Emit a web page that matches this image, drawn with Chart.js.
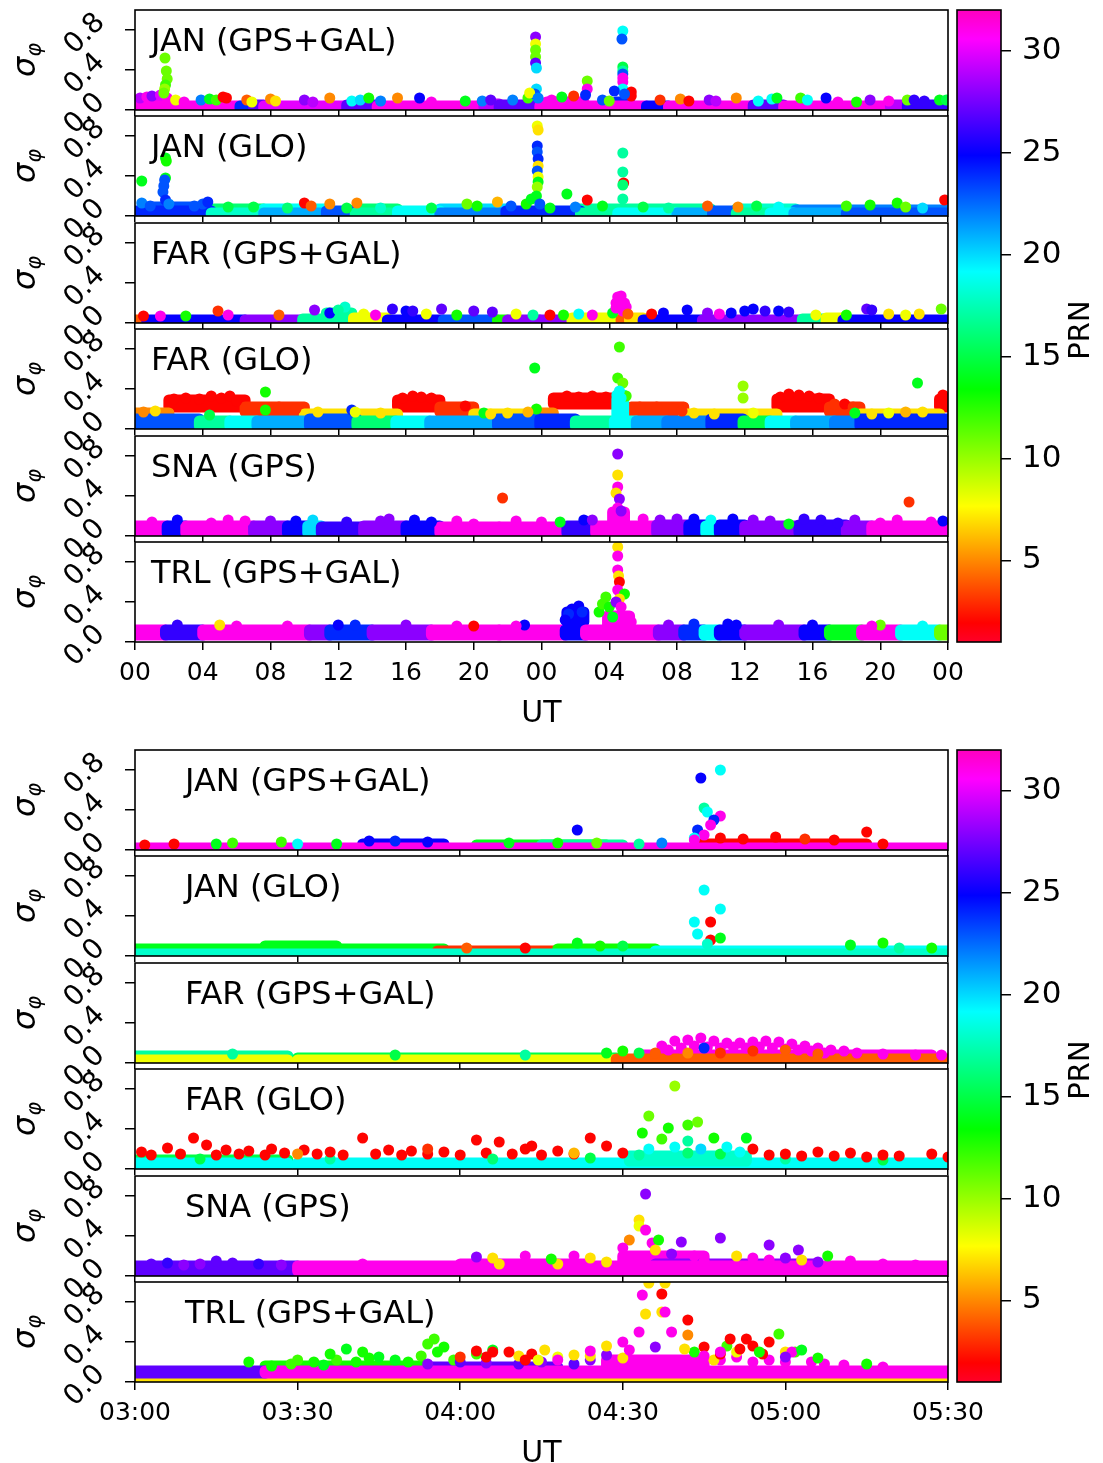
<!DOCTYPE html>
<html>
<head>
<meta charset="utf-8">
<script src="https://cdn.jsdelivr.net/npm/chart.js@4.4.0/dist/chart.umd.min.js"></script>
<style>
  body { margin: 0; background: #fff; width: 1103px; height: 1463px; position: relative; overflow: hidden; }
  canvas { position: absolute; }
</style>
</head>
<body>
<script>
// ---- axes / labels ----
const stationTitles = ['JAN (GPS+GAL)', 'JAN (GLO)', 'FAR (GPS+GAL)', 'FAR (GLO)', 'SNA (GPS)', 'TRL (GPS+GAL)'];
const overviewTicks = [0, 4, 8, 12, 16, 20, 24, 28, 32, 36, 40, 44, 48];
const overviewTickLabels = ['00', '04', '08', '12', '16', '20', '00', '04', '08', '12', '16', '20', '00'];
const detailTicks = [3, 3.5, 4, 4.5, 5, 5.5];
const detailTickLabels = ['03:00', '03:30', '04:00', '04:30', '05:00', '05:30'];
const sigmaTicks = [0, 0.4, 0.8];
const sigmaTickLabels = ['0.0', '0.4', '0.8'];
const prnTicks = [5, 10, 15, 20, 25, 30];
const prnTickLabels = ['5', '10', '15', '20', '25', '30'];

// bands: [t start (h), t end (h), sigma low, sigma high, PRN]  -- dense runs of samples,
//        later rows are drawn over earlier ones
// dots:  [t (h), sigma, PRN]

// two-day overview
const janGpsOvBands = [
  [0.2, 1.9, .05, .1, 30], [24.3, 26.5, .05, .08, 31], [28.4, 29.2, .05, .08, 24],
  [0.1, 6.2, .02, .04, 31], [6.2, 7.0, .02, .04, 24], [7.0, 7.6, .02, .05, 27],
  [7.6, 12.5, .02, .04, 30], [12.5, 14.3, .02, .05, 27], [14.3, 20.6, .02, .04, 31], [20.6, 21.5, .03, .06, 29],
  [21.5, 23.9, .02, .05, 27], [23.9, 30.2, .02, .04, 31],
  [30.2, 31.5, .02, .04, 25], [31.5, 36.5, .02, .04, 31], [36.5, 38.3, .02, .05, 27], [38.3, 44.6, .02, .04, 31],
  [44.6, 45.6, .03, .05, 29], [45.6, 48, .02, .05, 26]
];
const janGpsOvDots = [
  [0.3, .12, 29], [0.7, .13, 31], [1.0, .14, 28], [1.5, .15, 30], [1.9, .12, 31], [2.4, .1, 8], [2.9, .08, 31],
  [1.77, .52, 11], [1.85, .39, 11], [1.9, .31, 11], [1.8, .25, 12], [1.75, .21, 10], [1.7, .17, 11],
  [3.9, .1, 22], [4.4, .11, 14], [4.8, .1, 12], [5.2, .13, 2], [5.4, .12, 2], [6.6, .1, 4], [6.9, .08, 8],
  [8.0, .11, 5], [8.3, .09, 7], [10.0, .1, 28], [10.5, .08, 29], [11.5, .12, 5], [12.8, .09, 19], [13.3, .1, 20],
  [13.8, .12, 13], [14.5, .09, 22], [15.5, .12, 5], [16.8, .12, 25], [17.5, .08, 31], [19.5, .09, 14], [20.5, .09, 22],
  [21.0, .1, 27], [22.3, .1, 22], [23.2, .12, 12],
  [23.65, .73, 28], [23.65, .66, 8], [23.65, .6, 11], [23.65, .53, 11], [23.65, .47, 27], [23.7, .42, 20],
  [23.7, .21, 20], [23.6, .16, 23], [23.3, .17, 8], [23.8, .12, 22],
  [24.6, .1, 31], [25.2, .13, 14], [25.9, .14, 3], [26.7, .29, 11], [26.7, .21, 31], [26.6, .15, 24], [27.6, .1, 23],
  [28.0, .09, 11], [28.8, .79, 19], [28.75, .71, 23], [28.8, .43, 15], [28.8, .39, 17], [28.8, .36, 23], [28.8, .32, 31],
  [28.8, .28, 31], [28.8, .21, 19], [28.3, .19, 24], [29.3, .18, 2], [29.3, .14, 2], [28.9, .16, 23],
  [31.0, .1, 3], [32.2, .11, 5], [32.7, .09, 2], [33.9, .1, 28], [34.3, .09, 29], [35.5, .12, 5], [36.8, .09, 19],
  [37.6, .11, 19], [37.9, .12, 14], [39.3, .12, 12], [39.7, .1, 19], [40.8, .12, 25], [41.5, .08, 31], [42.6, .08, 13],
  [43.4, .1, 28], [44.5, .09, 31], [45.6, .1, 11], [46.0, .1, 26], [46.6, .09, 26], [47.5, .1, 14], [47.9, .1, 15]
];

const janGloOvBands = [
  [0.5, 4.3, .06, .09, 23], [4.5, 7.6, .05, .07, 16], [7.6, 11.3, .05, .07, 19], [13.0, 15.5, .05, .07, 16],
  [18.0, 21.9, .05, .07, 20], [26.3, 34.0, .05, .07, 17], [35.5, 39.0, .05, .07, 18], [39.0, 48.0, .05, .06, 22],
  [0, 4.5, .02, .05, 24], [4.5, 7.6, .02, .03, 18], [7.6, 11.3, .02, .03, 21], [11.3, 13.0, .02, .05, 23],
  [13.0, 15.5, .02, .03, 17], [15.5, 18.0, .02, .05, 19], [18.0, 21.9, .02, .03, 22], [21.9, 23.9, .02, .05, 24],
  [23.9, 26.3, .02, .05, 24], [26.3, 28.5, .02, .03, 17], [28.5, 32.0, .02, .03, 19], [32.0, 34.1, .02, .03, 21],
  [34.1, 35.5, .02, .05, 23], [35.5, 37.5, .02, .03, 17], [37.5, 38.9, .02, .03, 19], [38.9, 42.0, .02, .03, 21],
  [42.0, 48.0, .02, .03, 23]
];
const janGloOvDots = [
  [0.4, .35, 14], [0.4, .13, 22], [0.9, .1, 23], [1.8, .58, 14], [1.85, .55, 13], [1.8, .38, 14], [1.75, .36, 23],
  [1.7, .3, 23], [1.65, .24, 23], [1.8, .16, 24], [2.0, .12, 22], [3.5, .1, 23], [4.0, .12, 23], [4.3, .14, 24],
  [5.5, .09, 15], [7.0, .09, 15], [9.0, .08, 16], [10.0, .13, 2], [10.4, .1, 4], [11.5, .12, 5], [12.5, .08, 15],
  [13.1, .13, 5], [14.5, .08, 18], [17.5, .08, 15], [19.6, .12, 11], [20.2, .1, 13], [21.4, .14, 6], [22.2, .1, 23],
  [23.1, .12, 13],
  [23.75, .9, 8], [23.8, .86, 7], [23.75, .7, 24], [23.75, .64, 23], [23.8, .57, 24], [23.8, .5, 7], [23.75, .45, 23],
  [23.8, .39, 8], [23.8, .34, 14], [23.75, .29, 10], [23.7, .2, 14], [23.4, .17, 14], [23.9, .12, 23],
  [24.5, .08, 14], [25.5, .22, 14], [26.7, .16, 2], [26.0, .09, 22], [27.6, .1, 14],
  [28.8, .63, 17], [28.8, .44, 17], [28.85, .33, 2], [28.8, .31, 16], [28.8, .17, 17],
  [30.0, .09, 15], [31.5, .08, 17], [33.8, .1, 4], [35.6, .09, 5], [36.7, .1, 15], [38.0, .09, 19], [42.0, .1, 12],
  [43.4, .11, 13], [45.0, .13, 13], [45.5, .09, 11], [46.5, .08, 20], [47.8, .16, 2]
];

const farGpsOvBands = [
  [11.3, 12.8, .07, .1, 17],
  [0, 0.7, .02, .03, 4], [0.7, 6.5, .02, .03, 25], [6.5, 9.9, .02, .03, 28], [9.9, 12.9, .02, .04, 17],
  [12.9, 14.9, .02, .05, 8], [14.9, 18.2, .02, .03, 25], [18.2, 21.4, .02, .03, 23],
  [21.4, 22.0, .02, .03, 13], [22.0, 23.9, .02, .03, 28], [23.9, 25.8, .02, .03, 28], [25.8, 28.7, .02, .05, 8],
  [28.7, 29.2, .02, .04, 4], [29.2, 30.0, .02, .05, 7], [30.0, 33.5, .02, .03, 25], [33.5, 39.4, .02, .03, 28],
  [39.4, 40.8, .02, .04, 17], [40.8, 41.8, .02, .05, 8], [41.8, 48.0, .02, .03, 25]
];
const farGpsOvDots = [
  [0.5, .07, 2], [1.5, .07, 31], [3.0, .07, 13], [4.9, .12, 3], [5.5, .08, 31], [8.5, .08, 4], [10.6, .13, 28],
  [11.5, .1, 25], [12.4, .16, 18], [12.0, .13, 17], [13.5, .09, 8], [14.2, .08, 31], [15.2, .14, 26], [16.0, .12, 25],
  [16.4, .12, 26], [17.2, .09, 8], [18.1, .14, 27], [19.0, .08, 13], [20.0, .12, 27], [21.1, .11, 27], [22.5, .09, 8],
  [23.5, .08, 17],
  [24.5, .08, 2], [25.3, .08, 13], [26.2, .09, 19], [27.0, .08, 31], [28.2, .1, 14], [28.4, .2, 31], [28.5, .26, 31],
  [28.7, .27, 31], [28.6, .22, 31], [28.9, .2, 31], [29.0, .16, 31], [28.4, .15, 31], [28.8, .12, 31], [29.1, .09, 4],
  [30.5, .09, 2], [31.2, .1, 25], [32.6, .13, 25], [33.8, .1, 28], [34.5, .09, 31], [35.2, .1, 25], [36.0, .12, 25],
  [36.5, .14, 25], [37.2, .12, 26], [38.0, .12, 25], [38.6, .11, 26], [40.2, .08, 8], [42.0, .08, 13], [43.2, .14, 27],
  [43.5, .13, 26], [44.5, .09, 7], [45.5, .08, 8], [46.3, .09, 7], [47.6, .14, 11]
];

const farGloOvBands = [
  [2.0, 6.5, .22, .29, 2], [6.5, 10.0, .17, .22, 3], [15.5, 18.0, .22, .29, 2], [18.0, 20.0, .17, .22, 3],
  [24.7, 28.3, .25, .31, 2], [29.3, 32.4, .17, .22, 3], [37.9, 41.0, .22, .3, 2], [41.0, 42.8, .17, .22, 3],
  [47.5, 48.0, .22, .3, 2],
  [0.0, 2.0, .14, .16, 5], [10.0, 15.5, .13, .15, 7], [20.0, 24.0, .13, .15, 7], [24.0, 24.7, .14, .16, 5],
  [32.4, 37.9, .13, .15, 7], [42.8, 47.5, .13, .15, 7],
  [0, 3.8, .03, .1, 23], [3.8, 5.6, .03, .08, 17], [5.6, 7.2, .03, .08, 19], [7.2, 10.3, .03, .08, 21],
  [10.3, 13.1, .03, .1, 23], [13.1, 15.4, .03, .08, 16], [15.4, 17.4, .03, .08, 19], [17.4, 21.4, .03, .08, 21],
  [21.4, 23.9, .03, .1, 23], [23.9, 26.0, .03, .1, 24], [26.0, 28.3, .03, .08, 17], [28.3, 29.6, .03, .08, 19],
  [29.6, 31.4, .03, .08, 21], [31.4, 34.0, .03, .08, 22], [34.0, 35.9, .03, .1, 24],
  [35.9, 37.5, .03, .08, 15], [37.5, 39.0, .03, .08, 19], [39.0, 41.3, .03, .08, 21], [41.3, 42.8, .03, .08, 22],
  [42.8, 48.0, .03, .1, 24], [28.45, 28.85, .1, .34, 19]
];
const farGloOvDots = [
  [0.5, .17, 5], [1.2, .18, 7], [2.3, .3, 2], [3.0, .31, 2], [3.8, .3, 2], [4.5, .33, 2], [5.1, .31, 2], [5.6, .33, 2],
  [6.0, .28, 2], [7.7, .37, 13], [7.7, .19, 13], [8.5, .22, 3], [9.5, .2, 3], [4.4, .14, 15], [10.8, .17, 7],
  [12.8, .19, 24], [13.0, .17, 8], [14.5, .16, 7], [15.8, .31, 2], [16.4, .33, 2], [16.9, .32, 2], [17.5, .31, 2],
  [18.3, .22, 3], [19.5, .23, 2], [20.6, .16, 14], [21.0, .15, 7], [22.0, .16, 7], [23.6, .61, 14], [23.7, .2, 13],
  [23.2, .17, 6],
  [24.8, .3, 2], [25.5, .33, 2], [26.2, .32, 2], [27.0, .33, 2], [27.8, .32, 2], [28.6, .82, 12], [28.5, .51, 12],
  [28.8, .46, 11], [29.0, .33, 12], [28.6, .38, 19], [28.7, .31, 19], [29.8, .22, 3], [30.8, .22, 3], [31.8, .2, 3],
  [32.3, .18, 3], [33.0, .16, 7], [34.2, .15, 7], [35.9, .43, 10], [35.9, .31, 10], [36.5, .16, 8], [38.1, .32, 2],
  [38.6, .35, 2], [39.2, .34, 2], [39.8, .33, 2], [40.4, .31, 2], [41.3, .25, 3], [41.9, .25, 2], [42.4, .22, 3],
  [42.5, .16, 14], [43.5, .15, 7], [44.5, .16, 8], [45.5, .17, 6], [46.2, .46, 14], [46.5, .17, 7], [47.7, .34, 2],
  [47.9, .27, 2]
];

const snaGpsOvBands = [
  [28.2, 28.9, .1, .24, 31],
  [0, 1.9, .03, .1, 31], [1.9, 3.0, .03, .1, 25], [3.0, 7.0, .03, .1, 31], [7.0, 9.0, .03, .1, 28],
  [9.0, 10.2, .03, .1, 25], [10.2, 11.0, .03, .1, 20], [11.0, 13.5, .03, .09, 26], [13.5, 16.0, .03, .1, 28],
  [16.0, 18.0, .03, .1, 25], [18.0, 21.5, .03, .09, 31], [21.5, 25.5, .03, .09, 31], [25.5, 27.2, .03, .1, 26],
  [27.2, 30.8, .03, .1, 31], [30.8, 32.7, .03, .11, 28], [32.7, 33.7, .03, .11, 25],
  [33.7, 34.5, .03, .1, 19], [34.5, 36.0, .03, .11, 25], [36.0, 39.2, .03, .1, 28], [39.2, 42.0, .03, .11, 26],
  [42.0, 43.5, .03, .1, 28], [43.5, 48.0, .03, .1, 31]
];
const snaGpsOvDots = [
  [21.7, .38, 3], [45.7, .34, 3], [28.5, .82, 28], [28.5, .61, 7], [28.5, .49, 31], [28.4, .43, 7], [28.6, .37, 28],
  [28.5, .28, 31], [28.7, .25, 28], [25.1, .14, 14], [1.0, .14, 31], [4.5, .13, 31], [8.0, .15, 28], [9.5, .15, 25],
  [12.5, .14, 26], [14.5, .15, 28], [17.5, .14, 25], [20.0, .12, 31], [26.5, .16, 25], [27.0, .16, 28], [31.0, .16, 28],
  [33.0, .17, 25], [35.3, .17, 25], [37.5, .15, 28], [40.5, .16, 26], [44.0, .13, 31], [47.0, .14, 31], [47.7, .15, 25],
  [38.6, .12, 14], [41.5, .13, 26],
  [2.5, .16, 25], [5.5, .16, 31], [6.5, .15, 31], [10.5, .16, 20], [15.0, .17, 28], [16.5, .16, 25], [19.0, .15, 31],
  [22.5, .15, 31], [24.0, .14, 31], [30.0, .17, 31], [32.0, .17, 28], [34.0, .16, 19], [36.5, .16, 28], [39.5, .17, 26],
  [42.5, .16, 28], [45.0, .16, 31]
];

const trlGpsOvBands = [
  [27.9, 29.2, .12, .26, 31], [25.5, 26.5, .2, .3, 25],
  [0, 1.8, .07, .12, 31], [1.8, 4.0, .07, .12, 26], [4.0, 10.3, .07, .12, 31], [10.3, 11.5, .07, .12, 28],
  [11.5, 14.0, .07, .12, 24], [14.0, 17.5, .07, .12, 28], [17.5, 21.5, .07, .12, 31], [21.5, 25.4, .07, .12, 31],
  [25.4, 26.6, .07, .12, 25], [26.6, 30.9, .07, .12, 31],
  [30.9, 32.4, .07, .12, 28], [32.4, 33.6, .07, .12, 24], [33.6, 34.5, .07, .12, 19], [34.5, 36.0, .07, .12, 25],
  [36.0, 39.5, .07, .12, 28], [39.5, 41.0, .07, .12, 25], [41.0, 42.9, .07, .12, 14], [42.9, 45.2, .07, .12, 31],
  [45.2, 47.5, .07, .12, 19], [47.5, 48.0, .07, .12, 11]
];
const trlGpsOvDots = [
  [27.4, .3, 13], [27.6, .38, 12], [27.8, .45, 12], [28.0, .35, 13], [28.2, .25, 14],
  [28.5, .95, 7], [28.5, .86, 31], [28.5, .72, 31], [28.55, .66, 7], [28.6, .6, 2], [28.5, .52, 31], [28.9, .48, 13],
  [28.6, .43, 7], [28.4, .4, 28], [28.7, .35, 31], [26.2, .36, 25], [25.8, .33, 25], [25.6, .28, 24], [26.4, .3, 24],
  [25.4, .22, 25], [29.3, .2, 31], [5.0, .17, 7], [12.0, .17, 25], [20.0, .16, 2], [23.0, .17, 25], [35.0, .18, 25],
  [44.0, .17, 11],
  [2.5, .17, 26], [6.0, .16, 31], [9.0, .16, 31], [13.0, .17, 24], [16.0, .17, 28], [19.0, .16, 31], [22.5, .16, 31],
  [31.5, .17, 28], [33.0, .18, 24], [35.5, .17, 25], [38.0, .17, 28], [40.0, .17, 25], [43.5, .16, 31], [46.5, .16, 19]
];

// 03:00-05:30 UT detail
const janGpsDetBands = [
  [3.7, 3.95, .04, .06, 25], [4.05, 4.45, .04, .05, 14], [4.25, 4.5, .03, .05, 17], [4.73, 5.25, .04, .06, 2],
  [3.0, 5.5, .01, .02, 31]
];
const janGpsDetDots = [
  [3.03, .05, 2], [3.12, .06, 2], [3.25, .06, 14], [3.3, .07, 12], [3.45, .08, 12], [3.5, .06, 19], [3.62, .06, 14],
  [3.72, .09, 25], [3.8, .09, 24], [3.9, .08, 25], [4.15, .07, 14], [4.3, .07, 13], [4.36, .2, 25], [4.42, .07, 11],
  [4.55, .06, 17], [4.62, .07, 22],
  [4.74, .72, 25], [4.8, .8, 19], [4.75, .42, 17], [4.76, .38, 19], [4.8, .34, 31], [4.78, .3, 24], [4.77, .25, 31],
  [4.73, .2, 24], [4.75, .15, 31], [4.72, .12, 19], [4.72, .1, 31],
  [4.8, .12, 2], [4.87, .11, 2], [4.97, .13, 2], [5.06, .11, 3], [5.15, .1, 2], [5.25, .18, 2], [5.3, .06, 2]
];

const janGloDetBands = [
  [3.4, 3.62, .08, .1, 14], [3.0, 3.95, .05, .07, 14], [3.93, 4.32, .04, .05, 3],
  [4.3, 4.6, .05, .07, 13], [4.6, 5.5, .04, .05, 19], [3.0, 5.5, .01, .02, 18]
];
const janGloDetDots = [
  [4.02, .08, 4], [4.2, .08, 2], [4.36, .13, 14], [4.43, .1, 13], [4.5, .1, 15],
  [4.75, .66, 19], [4.8, .47, 19], [4.77, .34, 2], [4.72, .34, 19], [4.77, .16, 2], [4.8, .18, 14], [4.73, .22, 19],
  [4.76, .12, 18], [5.2, .11, 14], [5.3, .13, 13], [5.35, .08, 17], [5.45, .08, 13]
];

const farGpsDetBands = [
  [3.0, 3.47, .06, .07, 17], [3.5, 4.48, .05, .05, 15], [4.55, 5.45, .06, .08, 31],
  [3.0, 3.47, .02, .03, 8], [3.5, 4.48, .02, .03, 8], [4.48, 5.5, .02, .04, 4]
];
const farGpsDetDots = [
  [4.62, .17, 31], [4.66, .22, 31], [4.7, .23, 31], [4.74, .25, 31], [4.78, .22, 31], [4.82, .2, 31], [4.86, .2, 31],
  [4.9, .21, 31], [4.94, .22, 31], [4.98, .21, 31], [5.02, .19, 31], [5.06, .17, 31], [5.1, .15, 31], [5.14, .13, 31],
  [5.18, .12, 31], [5.22, .1, 31], [5.3, .09, 31], [5.4, .08, 31], [5.48, .08, 31],
  [4.64, .13, 31], [4.68, .15, 31], [4.72, .17, 31], [4.76, .16, 31], [4.8, .15, 31], [4.84, .16, 31], [4.88, .15, 31],
  [4.92, .16, 31], [4.96, .15, 31], [5.0, .14, 31], [5.04, .13, 31], [5.08, .12, 31], [5.12, .1, 31],
  [4.6, .1, 4], [4.8, .1, 3], [5.1, .09, 4], [3.3, .09, 17], [3.8, .08, 15], [4.2, .08, 17],
  [4.45, .1, 14], [4.5, .12, 13], [4.55, .1, 15], [4.7, .1, 5], [4.9, .12, 3], [5.0, .13, 4], [4.75, .15, 24]
];

const farGloDetBands = [
  [3.0, 3.47, .07, .09, 15], [3.0, 3.47, .03, .06, 19], [3.5, 5.5, .03, .06, 19], [4.52, 4.88, .08, .13, 18]
];
const farGloDetDots = [
  [3.05, .14, 2], [3.14, .15, 2], [3.25, .14, 2], [3.32, .15, 2], [3.4, .14, 2], [3.46, .16, 2], [3.56, .15, 2],
  [3.64, .14, 2], [3.74, .15, 2], [3.82, .14, 2], [3.9, .15, 2], [4.0, .14, 2], [4.08, .16, 2], [4.16, .15, 2],
  [4.25, .14, 2], [4.35, .15, 2], [4.5, .16, 2], [4.95, .14, 2], [5.05, .13, 2], [5.15, .13, 2], [5.25, .12, 2],
  [5.35, .13, 2], [5.5, .12, 2], [3.9, .2, 3], [4.22, .23, 2],
  [3.2, .1, 15], [3.6, .1, 17], [4.1, .1, 16], [4.4, .11, 15], [4.55, .14, 17], [4.7, .16, 16], [4.8, .15, 15],
  [5.0, .1, 17], [5.3, .09, 15],
  [3.02, .17, 2], [3.1, .21, 2], [3.18, .31, 2], [3.22, .24, 2], [3.28, .19, 2], [3.35, .18, 2], [3.42, .2, 2],
  [3.52, .19, 2], [3.6, .17, 2], [3.7, .31, 2], [3.78, .19, 2], [3.85, .18, 2], [3.95, .17, 2], [4.05, .29, 2],
  [4.12, .27, 2], [4.2, .2, 2], [4.3, .18, 2], [4.4, .31, 2], [4.45, .23, 2], [4.9, .2, 2], [5.0, .15, 2],
  [5.1, .17, 2], [5.2, .16, 2], [5.3, .14, 2], [5.45, .15, 2],
  [4.58, .2, 19], [4.66, .22, 19], [4.74, .2, 20], [4.82, .22, 19], [4.86, .17, 19],
  [4.66, .83, 10], [4.58, .53, 11], [4.64, .41, 13], [4.7, .44, 12], [4.73, .47, 11], [4.56, .36, 13], [4.78, .31, 13],
  [4.88, .31, 14], [4.62, .3, 12], [4.7, .28, 17], [3.5, .15, 5], [4.35, .16, 6]
];

const snaGpsDetBands = [
  [4.5, 4.75, .1, .2, 31], [4.0, 4.4, .08, .12, 31], [4.6, 5.1, .09, .12, 28],
  [3.0, 3.5, .05, .1, 27], [3.5, 5.5, .05, .1, 31]
];
const snaGpsDetDots = [
  [3.05, .12, 27], [3.1, .13, 26], [3.15, .11, 28], [3.3, .13, 27], [3.38, .12, 26], [3.45, .11, 28],
  [4.12, .12, 7], [4.3, .12, 7], [4.45, .14, 7], [4.75, .15, 31], [4.95, .16, 31], [5.1, .14, 28], [5.4, .11, 31],
  [3.25, .15, 27], [3.2, .12, 28], [3.7, .12, 31], [4.05, .19, 28], [4.1, .18, 7], [4.2, .2, 31], [4.28, .17, 13],
  [4.35, .2, 31], [4.4, .18, 7],
  [4.57, .82, 28], [4.55, .56, 7], [4.55, .5, 8], [4.57, .46, 31], [4.52, .36, 5], [4.59, .33, 31], [4.68, .34, 28],
  [4.61, .36, 13], [4.8, .38, 28], [4.95, .31, 28], [5.04, .26, 28], [5.13, .2, 13],
  [4.5, .28, 31], [4.6, .26, 7], [4.65, .22, 28], [4.72, .2, 31], [4.85, .2, 7], [4.9, .18, 31], [5.0, .18, 28],
  [5.05, .16, 7], [5.2, .15, 31], [5.3, .12, 31]
];

const trlGpsDetBands = [
  [3.0, 5.5, .02, .02, 7], [3.6, 4.3, .13, .15, 27], [3.4, 3.9, .14, .16, 13], [4.45, 4.75, .14, .22, 31],
  [3.0, 3.4, .09, .11, 27], [3.4, 5.5, .09, .11, 31]
];
const trlGpsDetDots = [
  [3.42, .16, 13], [3.48, .18, 12], [3.55, .2, 13], [3.58, .17, 14], [3.62, .22, 12], [3.68, .2, 13], [3.72, .24, 13],
  [3.8, .22, 14], [3.84, .2, 13], [3.88, .26, 12], [3.93, .3, 13], [3.98, .22, 12],
  [3.9, .18, 28], [4.0, .2, 27], [4.08, .19, 28], [4.18, .18, 27], [4.25, .2, 28], [4.35, .18, 27], [4.4, .22, 28],
  [4.22, .28, 2], [4.08, .25, 2], [4.18, .26, 7], [4.24, .22, 8], [4.4, .26, 7], [4.5, .24, 7],
  [3.35, .2, 13], [3.5, .22, 12], [3.6, .28, 13], [3.65, .33, 14], [3.7, .3, 13], [3.75, .25, 14], [3.9, .38, 12],
  [3.92, .43, 12], [3.95, .35, 13], [4.05, .28, 12], [4.1, .32, 14],
  [4.05, .31, 2], [4.1, .3, 2], [4.15, .3, 2], [4.2, .22, 2], [4.0, .25, 3], [4.26, .32, 7], [4.3, .25, 8], [4.35, .27, 7],
  [4.8, .22, 31], [4.85, .25, 31], [4.9, .2, 31], [4.95, .22, 31], [5.0, .2, 31], [5.08, .2, 31], [5.12, .18, 31],
  [5.18, .17, 31], [4.78, .22, 7], [4.85, .3, 8], [5.0, .3, 7], [4.72, .3, 13], [4.82, .36, 12], [5.03, .3, 12],
  [4.75, .35, 2], [4.8, .28, 2], [4.86, .33, 2], [4.93, .28, 2], [4.95, .4, 2],
  [4.56, .87, 31], [4.58, .99, 7], [4.62, .88, 2], [4.63, .99, 7], [4.57, .68, 7], [4.62, .7, 7], [4.63, .7, 31],
  [4.55, .5, 31], [4.7, .62, 2], [4.65, .5, 31], [4.7, .47, 5], [4.69, .33, 7], [4.83, .43, 2], [4.88, .43, 2],
  [4.9, .36, 2], [4.98, .48, 12], [5.02, .3, 31], [5.1, .24, 13],
  [4.45, .27, 28], [4.6, .35, 28], [4.52, .32, 31], [4.75, .26, 31], [4.8, .3, 31], [4.92, .3, 13], [5.05, .32, 14],
  [5.0, .25, 28], [4.4, .31, 31], [4.45, .36, 7], [4.5, .4, 31], [4.3, .22, 31], [5.25, .18, 13], [5.3, .15, 31]
];

const prnMin = 1, prnMax = 32;

// ---- layout ----
const FONT = '"DejaVu Sans"';
const DOT_R = 5.5;
const AREA_L = 135, AREA_R = 948, PANEL_H = 100, PANEL_STEP = 106.4, PAD_T = 30, CANVAS_W = 1000;

Chart.defaults.font.family = FONT;
Chart.defaults.color = '#000';

// matplotlib gist_rainbow anchors
const rainbow = [
  [0.000, [1, 0, 0.16]], [0.030, [1, 0, 0]], [0.215, [1, 1, 0]], [0.400, [0, 1, 0]],
  [0.586, [0, 1, 1]], [0.770, [0, 0, 1]], [0.954, [1, 0, 1]], [1.000, [1, 0, 0.75]]
];
const rgbCss = c => `rgb(${Math.round(c[0] * 255)},${Math.round(c[1] * 255)},${Math.round(c[2] * 255)})`;

function prnColor(prn) {
  const f = Math.min(1, Math.max(0, (prn - prnMin) / (prnMax - prnMin)));
  for (let i = 1; i < rainbow.length; i++) {
    const [f1, c1] = rainbow[i];
    if (f <= f1) {
      const [f0, c0] = rainbow[i - 1];
      const k = (f - f0) / (f1 - f0);
      return rgbCss(c0.map((v, j) => v + (c1[j] - v) * k));
    }
  }
  return rgbCss(rainbow[rainbow.length - 1][1]);
}

const panelDecor = {
  id: 'panelDecor',
  afterDraw(chart, args, opts) {
    const { ctx, chartArea: a, scales: { y } } = chart;
    ctx.save();
    ctx.strokeStyle = '#000';
    ctx.lineWidth = 1.6;
    ctx.strokeRect(a.left, a.top, a.right - a.left, a.bottom - a.top);

    ctx.fillStyle = '#000';
    ctx.font = `32px ${FONT}`;
    ctx.textAlign = 'left';
    ctx.textBaseline = 'alphabetic';
    ctx.fillText(opts.title, a.left + opts.titleDx, a.top + 41);

    // rotated sigma tick labels
    ctx.font = `28px ${FONT}`;
    ctx.textAlign = 'center';
    ctx.textBaseline = 'middle';
    y.ticks.forEach((t, k) => {
      const py = y.getPixelForValue(t.value);
      ctx.save();
      ctx.translate(85, py + 4);
      ctx.rotate(-Math.PI / 4);
      ctx.fillText(sigmaTickLabels[k], 0, 0);
      ctx.restore();
    });

    // sigma_phi axis label
    ctx.translate(31, (a.top + a.bottom) / 2);
    ctx.rotate(-Math.PI / 2);
    ctx.textAlign = 'left';
    ctx.textBaseline = 'alphabetic';
    ctx.font = `italic 32px ${FONT}`;
    const w1 = ctx.measureText('σ').width;
    ctx.font = `italic 21px ${FONT}`;
    const w2 = ctx.measureText('φ').width;
    const x0 = -(w1 + w2) / 2;
    ctx.font = `italic 32px ${FONT}`;
    ctx.fillText('σ', x0, 4);
    ctx.font = `italic 21px ${FONT}`;
    ctx.fillText('φ', x0 + w1, 10);
    ctx.restore();
  }
};

function addCanvas(left, top, w, h) {
  const c = document.createElement('canvas');
  c.width = w; c.height = h;
  c.style.left = left + 'px';
  c.style.top = top + 'px';
  c.style.width = w + 'px';
  c.style.height = h + 'px';
  document.body.appendChild(c);
  return c;
}

function makePanel(group, i, bands, dots) {
  const isLast = i === stationTitles.length - 1;
  const areaTop = group.top + i * PANEL_STEP;
  const xh = isLast ? 90 : 30;
  const canvas = addCanvas(0, areaTop - PAD_T, CANVAS_W, PAD_T + PANEL_H + xh);

  const dotSet = {
    type: 'scatter',
    data: dots.map(d => ({ x: d[0], y: d[1] })),
    pointBackgroundColor: dots.map(d => prnColor(d[2])),
    pointBorderWidth: 0,
    pointRadius: DOT_R,
    clip: 0,
    order: 0
  };
  // each run is a closed outline stroked at dot width and filled inside
  const bandSets = bands.map(([t0, t1, lo, hi, prn], k) => {
    const col = prnColor(prn);
    return {
      type: 'line',
      data: [{ x: t0, y: lo }, { x: t0, y: hi }, { x: t1, y: hi }, { x: t1, y: lo }, { x: t0, y: lo }],
      borderColor: col,
      backgroundColor: col,
      borderWidth: 2 * DOT_R,
      borderJoinStyle: 'round',
      borderCapStyle: 'round',
      fill: 'shape',
      pointRadius: 0,
      clip: 0,
      order: bands.length - k
    };
  });

  new Chart(canvas, {
    type: 'scatter',
    data: { datasets: [dotSet, ...bandSets] },
    options: {
      responsive: false,
      animation: false,
      devicePixelRatio: 1,
      events: [],
      layout: { padding: { top: PAD_T, right: CANVAS_W - AREA_R, left: 0, bottom: 0 } },
      plugins: {
        legend: { display: false },
        tooltip: { enabled: false },
        panelDecor: { title: stationTitles[i], titleDx: group.titleDx }
      },
      scales: {
        x: {
          type: 'linear',
          position: 'bottom',
          min: group.ticks[0],
          max: group.ticks[group.ticks.length - 1],
          afterBuildTicks: s => { s.ticks = group.ticks.map(v => ({ value: v })); },
          afterFit: s => { s.height = xh; },
          ticks: {
            display: isLast,
            autoSkip: false,
            maxRotation: 0,
            padding: 8,
            font: { size: 25 },
            callback: (v, k) => group.labels[k]
          },
          grid: { drawOnChartArea: false, tickLength: isLast ? 8 : 6, color: '#000', lineWidth: 1.5 },
          border: { display: false },
          title: { display: isLast, text: 'UT', font: { size: 30 }, padding: 0 }
        },
        y: {
          type: 'linear',
          min: 0,
          max: 1,
          afterBuildTicks: s => { s.ticks = sigmaTicks.map(v => ({ value: v })); },
          afterFit: s => { s.width = AREA_L; },
          ticks: { display: false },
          grid: { drawOnChartArea: false, tickLength: 10, color: '#000', lineWidth: 1.5 },
          border: { display: false }
        }
      }
    },
    plugins: [panelDecor]
  });
}

const colorbarDecor = {
  id: 'colorbarDecor',
  afterDraw(chart) {
    const { ctx, chartArea: a } = chart;
    ctx.save();
    ctx.strokeStyle = '#000';
    ctx.lineWidth = 1.6;
    ctx.strokeRect(a.left, a.top, a.right - a.left, a.bottom - a.top);
    ctx.fillStyle = '#000';
    ctx.font = `29px ${FONT}`;
    ctx.textAlign = 'center';
    ctx.textBaseline = 'middle';
    ctx.translate(141, (a.top + a.bottom) / 2 + 4);
    ctx.rotate(-Math.PI / 2);
    ctx.fillText('PRN', 0, 0);
    ctx.restore();
  }
};

function makeColorbar(top) {
  const cbW = 163, cbLeft = 940;
  const canvas = addCanvas(cbLeft, top - PAD_T, cbW, PAD_T + 632 + 30);
  new Chart(canvas, {
    type: 'bar',
    data: {
      labels: ['PRN'],
      datasets: [{
        data: [[prnMin, prnMax]],
        backgroundColor: c => {
          const s = c.chart.scales.y;
          if (!s || !c.chart.chartArea) return 'transparent';
          const g = c.chart.ctx.createLinearGradient(0, s.getPixelForValue(prnMin), 0, s.getPixelForValue(prnMax));
          rainbow.forEach(([f, col]) => g.addColorStop(f, rgbCss(col)));
          return g;
        },
        borderWidth: 0,
        barPercentage: 1,
        categoryPercentage: 1
      }]
    },
    options: {
      responsive: false,
      animation: false,
      devicePixelRatio: 1,
      events: [],
      layout: { padding: { left: 957 - cbLeft, top: PAD_T, bottom: 30, right: 0 } },
      plugins: { legend: { display: false }, tooltip: { enabled: false } },
      scales: {
        x: { display: false },
        y: {
          position: 'right',
          min: prnMin,
          max: prnMax,
          afterBuildTicks: s => { s.ticks = prnTicks.map(v => ({ value: v })); },
          afterFit: s => { s.width = cbW - (1001 - cbLeft); },
          ticks: { padding: 11, font: { size: 31 }, callback: (v, k) => prnTickLabels[k] },
          grid: { drawOnChartArea: false, tickLength: 10, color: '#000', lineWidth: 1.5 },
          border: { display: false }
        }
      }
    },
    plugins: [colorbarDecor]
  });
}

const overview = { top: 10, ticks: overviewTicks, labels: overviewTickLabels, titleDx: 16 };
const detail = { top: 750, ticks: detailTicks, labels: detailTickLabels, titleDx: 50 };

const overviewData = [
  [janGpsOvBands, janGpsOvDots], [janGloOvBands, janGloOvDots], [farGpsOvBands, farGpsOvDots],
  [farGloOvBands, farGloOvDots], [snaGpsOvBands, snaGpsOvDots], [trlGpsOvBands, trlGpsOvDots]
];
const detailData = [
  [janGpsDetBands, janGpsDetDots], [janGloDetBands, janGloDetDots], [farGpsDetBands, farGpsDetDots],
  [farGloDetBands, farGloDetDots], [snaGpsDetBands, snaGpsDetDots], [trlGpsDetBands, trlGpsDetDots]
];

overviewData.forEach(([b, d], i) => makePanel(overview, i, b, d));
detailData.forEach(([b, d], i) => makePanel(detail, i, b, d));
makeColorbar(overview.top);
makeColorbar(detail.top);
</script>
</body>
</html>
